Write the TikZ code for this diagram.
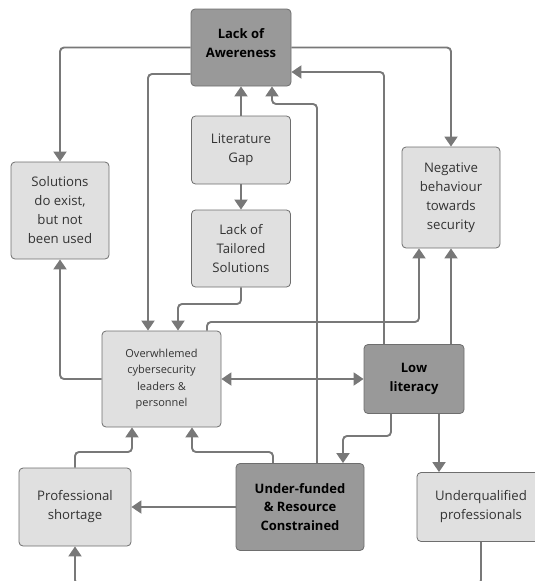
\documentclass[tikz,border=0pt]{standalone}
\usepackage{fontspec}
\setmainfont{Open Sans}
\usetikzlibrary{arrows.meta}
\definecolor{darkbox}{HTML}{999999}
\definecolor{lightbox}{HTML}{E0E0E0}
\definecolor{boxline}{HTML}{6E6E6E}
\definecolor{linkgray}{HTML}{787878}
\definecolor{softtext}{HTML}{333333}
\tikzstyle{every node}=[draw=boxline,line width=0.8pt,rounded corners=4pt,align=center,inner sep=0pt]
\tikzstyle{light}=[fill=lightbox,text=softtext,font=\fontsize{13.2}{19}\selectfont]
\tikzstyle{small}=[font=\fontsize{11}{16.3}\selectfont]
\tikzstyle{dark}=[fill=darkbox,text=black,font=\fontsize{13}{18.5}\selectfont\bfseries]
\tikzstyle{link}=[draw=linkgray,line width=1.9pt,rounded corners=4pt,-{Triangle[length=10pt,width=13pt]}]
\tikzstyle{both}=[{Triangle[length=10pt,width=13pt]}-{Triangle[length=10pt,width=13pt]}]

\begin{document}
\begin{tikzpicture}[x=1pt,y=-1pt]
  \useasboundingbox (0,0) rectangle (535,581);
  \clip (0,0) rectangle (535,581);
  \node [dark,minimum width=100pt,minimum height=77pt] (aware) at (241,47.5) {Lack of\\Awereness\\[-10pt]\mbox{}};
  \node [light,minimum width=99pt,minimum height=68pt] (litgap) at (241,150) {Literature\\Gap};
  \node [light,minimum width=99pt,minimum height=77pt] (tailored) at (241,248.5) {Lack of\\Tailored\\Solutions};
  \node [light,minimum width=98pt,minimum height=97pt] (solutions) at (60,210.5) {Solutions\\do exist,\\but not\\been used};
  \node [light,minimum width=98pt,minimum height=101pt] (negative) at (451,197.5) {Negative\\behaviour\\towards\\security};
  \node [light,small,minimum width=119pt,minimum height=96pt] (overwhelmed) at (161.5,379) {Overwhlemed\\cybersecurity\\leaders \&\\personnel};
  \node [dark,minimum width=100pt,minimum height=69pt] (lowlit) at (414,379) {Low\\literacy};
  \node [light,minimum width=112pt,minimum height=78pt] (shortage) at (75,507) {Professional\\shortage};
  \node [dark,minimum width=128pt,minimum height=87pt] (underfunded) at (300,507) {Under-funded\\\& Resource\\Constrained};
  \node [light,minimum width=128pt,minimum height=69pt] (underqual) at (481,507) {Underqualified\\professionals};
  \coordinate (loopbot) at (280,584);

  \draw [link] (aware.west) -| (solutions.north);
  \draw [link] (aware.east) -| (negative.north);
  \draw [link] (aware.west |- 0,74) -| (148,0 |- overwhelmed.north);
  \draw [link] (litgap.north) -- (aware.south);
  \draw [link] (litgap.south) -- (tailored.north);
  \draw [link] (tailored.south) |- (178,304) -- (178,0 |- overwhelmed.north);
  \draw [link] (lowlit.north -| 384,0) |- (aware.east |- 0,72);
  \draw [link] (underfunded.north -| 317,0) |- (272,104) -- (272,0 |- aware.south);
  \draw [link] (overwhelmed.north -| 207,0) |- (419,322) -- (419,0 |- negative.south);
  \draw [link] (lowlit.north -| negative.south) -- (negative.south);
  \draw [link] (overwhelmed.west) -| (solutions.south);
  \draw [link,both] (overwhelmed.east) -- (lowlit.west);
  \draw [link] (lowlit.south -| 391,0) |- (343,436) -- (343,0 |- underfunded.north);
  \draw [link] (lowlit.south -| 439,0) -- (439,0 |- underqual.north);
  \draw [link] (shortage.north) |- (132,452) -- (132,0 |- overwhelmed.south);
  \draw [link] (underfunded.north -| 273,0) |- (192,452) -- (192,0 |- overwhelmed.south);
  \draw [link] (underfunded.west) -- (shortage.east);
  \draw [link] (underqual.south) |- (loopbot) -| (shortage.south);
\end{tikzpicture}
\end{document}
